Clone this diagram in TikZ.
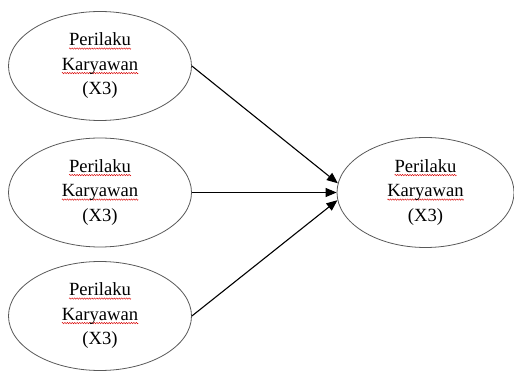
\documentclass[tikz,border=0pt]{standalone}
\usepackage{fontspec}
\setmainfont{Liberation Serif}
\usetikzlibrary{shapes.geometric, arrows.meta}

% red spell-check squiggle under a word
\newsavebox\wordbox
\newcommand\wavebit{\tikz[x=1pt,y=1pt]{\useasboundingbox (0,-1) rectangle (2.4,1);
\draw[red!85!black,line width=0.45pt] (0,0) -- (0.6,0.7) -- (1.8,-0.7) -- (2.4,0);}}
\newcommand\spellerr[1]{\sbox\wordbox{#1}%
\rlap{\lower3.6pt\hbox to\wd\wordbox{\xleaders\hbox{\wavebit}\hfill}}\usebox\wordbox}

\begin{document}
\begin{tikzpicture}[x=1pt,y=-1pt,
  latent/.style={ellipse,draw=black!65,line width=0.8pt,minimum width=183pt,
    minimum height=109pt,inner sep=0pt,align=center,
    font=\fontsize{18.6}{24.5}\selectfont},
  link/.style={-{Triangle[length=11pt,width=9pt]},line width=1.1pt}]

\useasboundingbox (0,0) rectangle (514,371);

\node[latent] (x1) at (100,66) {\spellerr{Perilaku}\\\spellerr{Karyawan}\\(X3)};
\node[latent] (x2) at (100,192.5) {\spellerr{Perilaku}\\\spellerr{Karyawan}\\(X3)};
\node[latent] (x3) at (100,316) {\spellerr{Perilaku}\\\spellerr{Karyawan}\\(X3)};
\node[latent,minimum width=177pt,minimum height=110pt] (y) at (425.5,192.5)
  {\spellerr{Perilaku}\\\spellerr{Karyawan}\\(X3)};

\draw[link] (x1.east) -- (y.174);
\draw[link] (x2.east) -- (y.west);
\draw[link] (x3.east) -- (y.185);

\end{tikzpicture}
\end{document}
